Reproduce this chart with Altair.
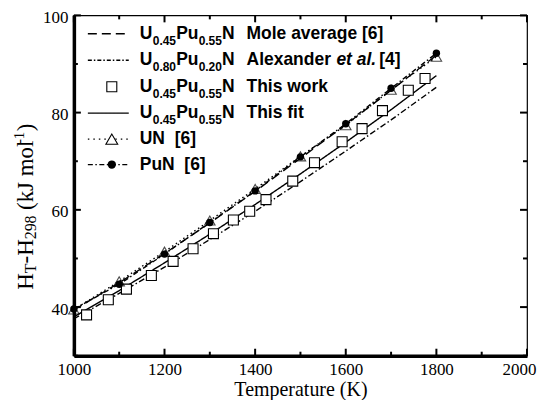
import altair as alt
import pandas as pd

# ---------------- data ----------------
T_grid = [1000, 1100, 1200, 1300, 1400, 1500, 1600, 1700, 1800]
mole_avg = [39.4, 45.0, 51.0, 57.3, 63.8, 70.6, 77.5, 84.6, 91.8]
alexander = [37.6, 42.8, 48.2, 53.9, 59.7, 65.8, 72.1, 78.5, 85.2]
this_fit = [38.0, 43.4, 49.1, 55.0, 61.1, 67.4, 73.9, 80.6, 87.6]
un_vals = [39.5, 45.3, 51.4, 57.8, 64.3, 71.0, 77.4, 84.7, 91.5]
pun_vals = [39.6, 44.7, 50.9, 57.4, 63.9, 70.9, 77.7, 85.0, 92.2]

work_T = [1028, 1076, 1116, 1171, 1219, 1263, 1308, 1352, 1388, 1424,
          1483, 1531, 1592, 1636, 1681, 1738, 1775]
work_H = [38.4, 41.5, 43.7, 46.5, 49.4, 52.0, 55.1, 57.9, 59.7, 62.1,
          65.9, 69.7, 74.0, 76.7, 80.4, 84.6, 87.0]

x_major = [1000, 1200, 1400, 1600, 1800, 2000]
x_minor = [1100, 1300, 1500, 1700, 1900]
y_major = [40, 60, 80, 100]
y_minor = [30, 50, 70, 90]

# ---------------- layout ----------------
W, H = 454, 341
X0, X1 = 1000, 2000
Y0, Y1 = 30, 100
xs = alt.Scale(domain=[X0, X1], nice=False, zero=False)
ys = alt.Scale(domain=[Y0, Y1], nice=False, zero=False)
SERIF = "Liberation Serif"
SANS = "Liberation Sans"


def px2x(px):
    return X0 + px * (X1 - X0) / W


def py2y(py):
    return Y1 - py * (Y1 - Y0) / H


curves = pd.DataFrame({"T": T_grid, "mole": mole_avg, "alex": alexander,
                       "fit": this_fit, "UN": un_vals, "PuN": pun_vals})
work = pd.DataFrame({"T": work_T, "H": work_H})

x_axis = alt.Axis(values=x_major, format="d", labelFont=SERIF, labelFontSize=17,
                  labelColor="black", title="Temperature (K)", titleFont=SERIF,
                  titleFontSize=20, titleFontWeight="normal", titleColor="black",
                  tickSize=0, domainWidth=3.5, domainColor="black", grid=False,
                  labelPadding=6, titleBaseline="alphabetic", titleY=40,
                  labelFlush=False,
                  labelOffset=alt.condition("datum.value == 2000", alt.value(-8), alt.value(0)))
y_axis = alt.Axis(values=y_major, format="d", labelFont=SERIF, labelFontSize=17,
                  labelColor="black", title=None, tickSize=0, domainWidth=3.5,
                  domainColor="black", grid=False, labelPadding=6, labelFlush=False,
                  labelOffset=2)


def X(field):
    return alt.X(field, scale=xs, axis=x_axis)


def Y(field):
    return alt.Y(field, scale=ys, axis=y_axis)


def line(field, dash):
    return alt.Chart(curves).mark_line(color="black", strokeWidth=1.4, strokeDash=dash).encode(
        x=X("T:Q"), y=Y(f"{field}:Q"))


l_mole = line("mole", [9, 5])
l_alex = line("alex", [6, 2.5, 1.5, 2.5])
l_fit = line("fit", [1, 0])
l_un = line("UN", [1.5, 3])
l_pun = line("PuN", [5, 2.5, 1.5, 2.5])

p_un = alt.Chart(curves).mark_point(shape="triangle-up", filled=False, color="black",
                                    size=110, strokeWidth=1.1).encode(x=X("T:Q"), y=Y("UN:Q"))
p_pun = alt.Chart(curves).mark_point(shape="circle", filled=True, color="black",
                                     size=55, opacity=1).encode(x=X("T:Q"), y=Y("PuN:Q"))
p_work = alt.Chart(work).mark_point(shape="square", filled=True, fill="white",
                                    stroke="black", size=100, strokeWidth=1.1,
                                    opacity=1).encode(x=X("T:Q"), y=Y("H:Q"))


# ---------------- inward ticks ----------------
def ticks(vals, orient, length):
    d = pd.DataFrame({"v": vals})
    m = alt.Chart(d).mark_rule(color="black", strokeWidth=2)
    if orient == "bottom":
        return m.encode(x=X("v:Q"), y=alt.value(H), y2=alt.value(H - length))
    if orient == "top":
        return m.encode(x=X("v:Q"), y=alt.value(0), y2=alt.value(length))
    if orient == "left":
        return m.encode(y=Y("v:Q"), x=alt.value(0), x2=alt.value(length))
    return m.encode(y=Y("v:Q"), x=alt.value(W), x2=alt.value(W - length))


tick_layers = []
for o in ["bottom", "top"]:
    tick_layers += [ticks(x_major, o, 7), ticks(x_minor, o, 4)]
for o in ["left", "right"]:
    tick_layers += [ticks(y_major, o, 7), ticks(y_minor, o, 4)]

# ---------------- legend (drawn by hand) ----------------
row_y = [18.5, 45, 71.5, 98, 124, 149.5]
BIG, SUB = 17.5, 12
formula_a = [("U", 66, 0), ("0.45", 79, 7), ("Pu", 102.5, 0), ("0.55", 125, 7), ("N", 148.5, 0)]
formula_b = [("U", 66, 0), ("0.80", 79, 7), ("Pu", 102.5, 0), ("0.20", 125, 7), ("N", 148.5, 0)]

rows = []
for ry, formula in zip(row_y[:4], [formula_a, formula_b, formula_a, formula_a]):
    for t, px, dy in formula:
        rows.append({"txt": t, "x": px2x(px), "y": py2y(ry + dy), "fs": SUB if dy else BIG})
for ry, d in zip(row_y[:4], ["Mole average [6]", None, "This work", "This fit"]):
    if d:
        rows.append({"txt": d, "x": px2x(173), "y": py2y(ry), "fs": BIG})
rows.append({"txt": "Alexander", "x": px2x(173), "y": py2y(row_y[1]), "fs": BIG})
rows.append({"txt": "[4]", "x": px2x(306), "y": py2y(row_y[1]), "fs": BIG})
rows.append({"txt": "UN\u00a0\u00a0[6]", "x": px2x(66), "y": py2y(row_y[4]), "fs": BIG})
rows.append({"txt": "PuN\u00a0\u00a0[6]", "x": px2x(66), "y": py2y(row_y[5]), "fs": BIG})
leg_txt = pd.DataFrame(rows)
leg_ital = pd.DataFrame([{"txt": "et al.", "x": px2x(263), "y": py2y(row_y[1]), "fs": BIG}])


def text_layer(df, style):
    return alt.Chart(df).mark_text(align="left", baseline="middle", font=SANS,
                                   fontWeight="bold", fontStyle=style, color="black").encode(
        x=X("x:Q"), y=Y("y:Q"), text="txt:N", size=alt.Size("fs:Q", scale=None))


leg_lines = pd.DataFrame({
    "x": [px2x(14)] * 6, "x2": [px2x(55)] * 6,
    "y": [py2y(r) for r in row_y], "k": ["mole", "alex", "none", "fit", "UN", "PuN"]})


def leg_line(k, dash):
    return alt.Chart(leg_lines[leg_lines.k == k]).mark_rule(
        color="black", strokeWidth=1.4, strokeDash=dash).encode(
        x=X("x:Q"), x2="x2:Q", y=Y("y:Q"))


leg_marks = pd.DataFrame({"x": [px2x(38)] * 3, "y": [py2y(row_y[i]) for i in (2, 4, 5)]})
lm_sq = alt.Chart(leg_marks.iloc[[0]]).mark_point(shape="square", filled=True, fill="white",
                                                 stroke="black", size=100, strokeWidth=1.1,
                                                 opacity=1).encode(x=X("x:Q"), y=Y("y:Q"))
lm_tri = alt.Chart(leg_marks.iloc[[1]]).mark_point(shape="triangle-up", filled=True,
                                                  fill="white", stroke="black", size=140,
                                                  strokeWidth=1.1, opacity=1).encode(
    x=X("x:Q"), y=Y("y:Q"))
lm_cir = alt.Chart(leg_marks.iloc[[2]]).mark_point(shape="circle", filled=True, color="black",
                                                  size=70, opacity=1).encode(x=X("x:Q"), y=Y("y:Q"))

# ---------------- y-axis title (rotated, with sub/superscripts) ----------------
ytitle_parts = [("H", 290, 0, 23), ("T", 273.4, 5, 16), ("-H", 263.6, 0, 23),
                ("298", 239.4, 5, 16), ("(kJ mol", 210.0, 0, 23),
                ("-1", 144.0, -7, 15), (")", 131.0, 0, 23)]
yt = pd.DataFrame([{"txt": t, "x": px2x(-48 + dx), "y": py2y(py - 15), "fs": fs}
                   for t, py, dx, fs in ytitle_parts])
y_title = alt.Chart(yt).mark_text(align="left", baseline="middle", font=SERIF, angle=270,
                                  color="black").encode(
    x=X("x:Q"), y=Y("y:Q"), text="txt:N", size=alt.Size("fs:Q", scale=None))

chart = alt.layer(
    l_mole, l_alex, l_fit, l_un, l_pun, p_work, p_un, p_pun,
    *tick_layers,
    leg_line("mole", [9, 5]), leg_line("alex", [4, 2, 1.5, 2]), leg_line("fit", [1, 0]),
    leg_line("UN", [1.5, 4]), leg_line("PuN", [5, 2.5, 1.5, 2.5]),
    lm_sq, lm_tri, lm_cir,
    text_layer(leg_txt, "normal"), text_layer(leg_ital, "italic"),
    y_title,
).properties(
    width=W, height=H, autosize="none",
    padding={"left": 66, "top": 7, "right": 10, "bottom": 44},
    background="white",
).configure_view(stroke="black", strokeWidth=1.2)

chart.save("out.html", embed_options={"renderer": "svg", "actions": False})
